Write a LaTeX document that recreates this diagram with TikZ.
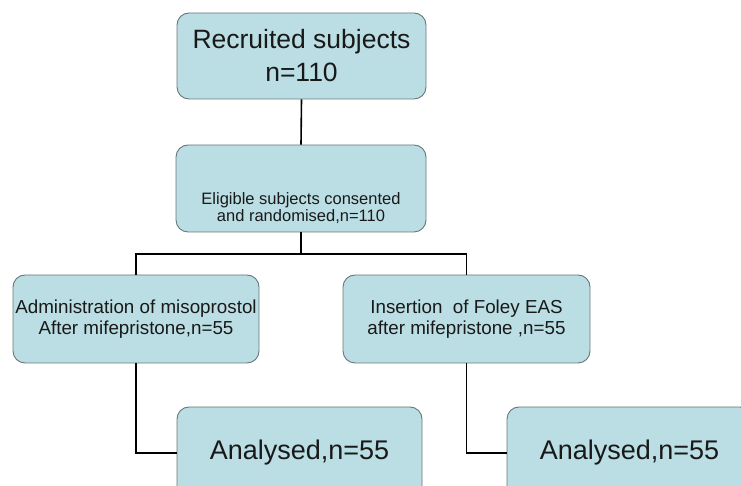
\documentclass[tikz,border=0pt]{standalone}
\usepackage{fontspec}
\setmainfont{Liberation Sans}
\usetikzlibrary{calc}
\definecolor{boxfill}{RGB}{186,222,227}
\definecolor{boxline}{RGB}{105,118,120}
\definecolor{txt}{RGB}{25,25,25}
\begin{document}
\begin{tikzpicture}[x=1pt,y=1pt,
  box/.style={draw=boxline, line width=0.9pt, fill=boxfill, rounded corners=12pt,
    text=txt, align=center, inner sep=0pt},
  conn/.style={line width=1.6pt, black}]
\useasboundingbox (0,0) rectangle (741,486);
\clip (0,0) rectangle (741,486);
\node[box, minimum width=249pt, minimum height=86pt,
  font=\fontsize{26.5}{33}\selectfont] (top) at (301.5,430) {Recruited subjects\\n=110};
\node[box, minimum width=250pt, minimum height=87pt] (el) at (301,297.5) {};
\node[text=txt, align=center, font=\fontsize{16.5}{14.5}\selectfont] (eltext) at (301,278)
  {Eligible subjects consented\\ and randomised,n=110};
\node[box, minimum width=246pt, minimum height=88pt,
  font=\fontsize{18.8}{21}\selectfont] (ml) at (136,167) {Administration of misoprostol\\After mifepristone,n=55};
\node[box, minimum width=247pt, minimum height=88pt,
  font=\fontsize{18.8}{21}\selectfont] (mr) at (466.5,167) {Insertion\ \ of Foley EAS\\after mifepristone ,n=55};
\node[box, minimum width=245pt, minimum height=92pt,
  font=\fontsize{27}{30}\selectfont] (bl) at (299.5,33) {Analysed,n=55};
\node[box, minimum width=245pt, minimum height=92pt,
  font=\fontsize{27}{30}\selectfont] (br) at (629.5,33) {Analysed,n=55};
\coordinate (j) at (301,232);
\draw[conn] (top.south) -- (el.north);
\draw[conn] (el.south) -- (j);
\draw[conn] (ml.north) |- (j) -| (mr.north);
\draw[conn] (ml.south) |- (bl.west);
\draw[conn] (mr.south) |- (br.west);
\end{tikzpicture}
\end{document}
